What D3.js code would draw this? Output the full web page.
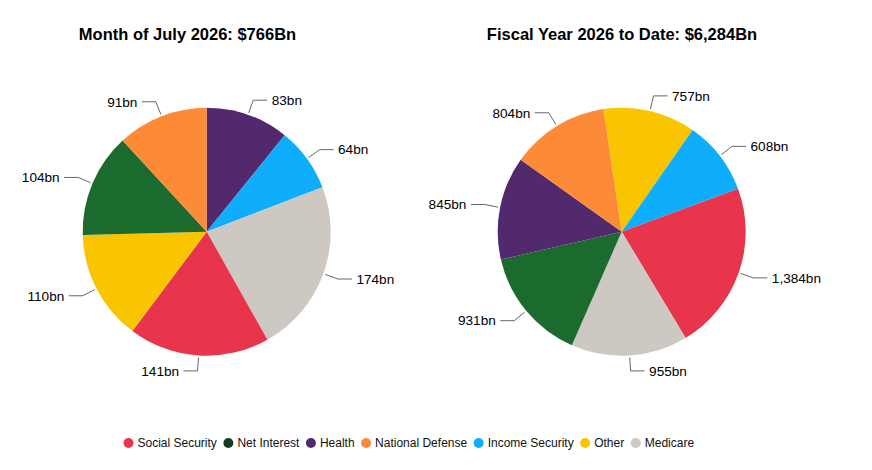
<!DOCTYPE html>
<html>
<head>
<meta charset="utf-8">
<script src="https://cdn.jsdelivr.net/npm/d3@7"></script>
<style>
  body { margin: 0; background: #fff; }
  svg text { font-family: "Liberation Sans", Arial, sans-serif; }
</style>
</head>
<body>
<script>
// legend order + colours
var legendNames = ["Social Security", "Net Interest", "Health", "National Defense", "Income Security", "Other", "Medicare"];
var legendColors = ["#e8354b", "#163d22", "#52296d", "#fd8a37", "#0eaefc", "#f9c500", "#cdc8c2"];
var sliceColors = {
  "Social Security": "#e8354b", "Net Interest": "#1b6a2e", "Health": "#52296d",
  "National Defense": "#fd8a37", "Income Security": "#0eaefc", "Other": "#f9c500", "Medicare": "#cdc8c2"
};

// month of july (clockwise from top)
var julyTitle = "Month of July 2026: $766Bn";
var julyCategories = ["Health", "Income Security", "Medicare", "Social Security", "Other", "Net Interest", "National Defense"];
var julyValues = [83, 64, 174, 141, 110, 104, 91];
var julyLabels = ["83bn", "64bn", "174bn", "141bn", "110bn", "104bn", "91bn"];

// fiscal year to date
var fyTitle = "Fiscal Year 2026 to Date: $6,284Bn";
var fyCategories = ["Other", "Income Security", "Social Security", "Medicare", "Net Interest", "Health", "National Defense"];
var fyValues = [757, 608, 1384, 955, 931, 845, 804];
var fyLabels = ["757bn", "608bn", "1,384bn", "955bn", "931bn", "845bn", "804bn"];

var width = 872, height = 470;
var svg = d3.select("body").append("svg")
    .attr("width", width)
    .attr("height", height);

var radius = 124;

drawPie(206.7, 231.7, 187.5, julyTitle, julyCategories, julyValues, julyLabels, 0);
drawPie(621.7, 231.7, 622, fyTitle, fyCategories, fyValues, fyLabels, -8.5);

function drawPie(cx, cy, titleX, title, cats, vals, labels, startDeg) {
    svg.append("text")
        .attr("x", titleX)
        .attr("y", 39.5)
        .attr("text-anchor", "middle")
        .style("font-size", "16.5px")
        .style("font-weight", "bold")
        .attr("fill", "#000")
        .text(title);

    var start = startDeg * Math.PI / 180;
    var pie = d3.pie().sort(null)
        .startAngle(start)
        .endAngle(start + 2 * Math.PI);
    var arcs = pie(vals);
    var arc = d3.arc().innerRadius(0).outerRadius(radius);

    var g = svg.append("g")
        .attr("transform", "translate(" + cx + "," + cy + ")");

    g.selectAll("path.slice")
        .data(arcs)
        .enter().append("path")
        .attr("class", "slice")
        .attr("d", arc)
        .attr("fill", function (d, i) { return sliceColors[cats[i]]; });

    // connectors + labels
    arcs.forEach(function (d, i) {
        var mid = (d.startAngle + d.endAngle) / 2;
        var sx = Math.sin(mid), sy = -Math.cos(mid);
        var right = sx >= 0;
        var p0 = [ (radius + 2) * sx, (radius + 2) * sy ];
        var p1 = [ 139.5 * sx, 139.5 * sy ];
        var p2 = [ p1[0] + (right ? 14 : -14), p1[1] ];
        g.append("path")
            .attr("d", "M" + p0 + "L" + p1 + "L" + p2)
            .attr("fill", "none")
            .attr("stroke", "#666")
            .attr("stroke-width", 1);
        g.append("text")
            .attr("x", p2[0] + (right ? 4.5 : -4.5))
            .attr("y", p2[1])
            .attr("dy", "0.35em")
            .attr("text-anchor", right ? "start" : "end")
            .style("font-size", "13.6px")
            .attr("fill", "#000")
            .text(labels[i]);
    });
}

// legend
var legend = svg.append("g").attr("transform", "translate(0,443)");
var lx = 128.5;
legendNames.forEach(function (name, i) {
    legend.append("circle")
        .attr("cx", lx)
        .attr("cy", 0)
        .attr("r", 5)
        .attr("fill", legendColors[i]);
    var t = legend.append("text")
        .attr("x", lx + 9)
        .attr("y", 0)
        .attr("dy", "0.35em")
        .style("font-size", "12px")
        .attr("fill", "#111")
        .text(name);
    lx += t.node().getComputedTextLength() + 20.5;
});
</script>
</body>
</html>
